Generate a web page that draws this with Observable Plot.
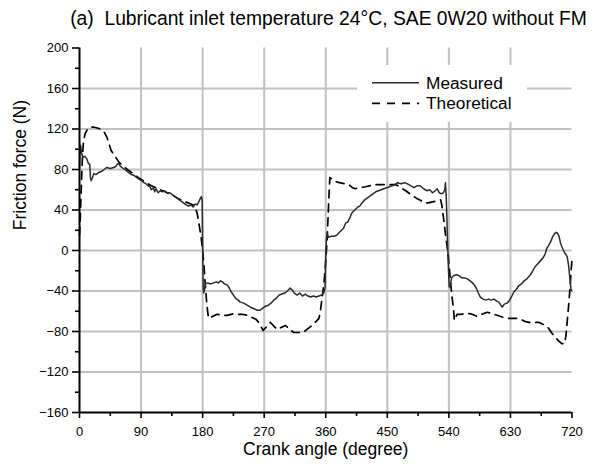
<!DOCTYPE html>
<html><head><meta charset="utf-8">
<script src="https://cdn.jsdelivr.net/npm/d3@7"></script>
<script src="https://cdn.jsdelivr.net/npm/@observablehq/plot@0.6"></script>
<style>
body{margin:0;background:#fff;}
#wrap{width:592px;height:472px;position:relative;overflow:hidden;font-family:Arial,"Liberation Sans",sans-serif;background:#fff;}
#title{height:34px;position:relative;}
#title span{position:absolute;left:0;width:657px;text-align:center;top:9px;font-size:19.3px;line-height:19px;white-space:pre;color:#000;}
#chart svg{display:block;}
</style></head>
<body><div id="wrap"><div id="title"><span>(a)  Lubricant inlet temperature 24°C, SAE 0W20 without FM</span></div><div id="chart"></div></div>
<script>
const titleText = "(a)  Lubricant inlet temperature 24°C, SAE 0W20 without FM";
const xTitle = "Crank angle (degree)";
const yTitle = "Friction force (N)";
const seriesNames = ["Measured", "Theoretical"];

const xTicks = [0, 90, 180, 270, 360, 450, 540, 630, 720];
const xMinorTicks = [45, 135, 225, 315, 405, 495, 585, 675];
const yTicks = [-160, -120, -80, -40, 0, 40, 80, 120, 160, 200];
const yMinorTicks = [-140, -100, -60, -20, 20, 60, 100, 140, 180];
const xGridLines = [90, 180, 270, 360, 450, 540, 630];
const yGridLines = [-120, -80, -40, 0, 40, 80, 120, 160];

const measuredAngle = [
  0,0.7,1.5,3,5,8,11,13,15,16,17,19,21,24,28,32,36,40,45,50,53,55,57,60,64,68,72,76,80,84,88,91,94,97,100,103,105,108,110,112,115,118,121,124,128,132,136,140,144,148,152,156,160,163,166,169,172,175,177,178.3,179.3,
  180,180.8,181.5,182.5,184,187,192,196,200,203,206,209,212,216,219,221,224,228,232,235,240,245,250,255,260,264,268,272,276,280,284,288,292,296,300,304,308,311,314,318,322,326,330,334,338,342,346,350,354,357,359,
  360,361,362,364,367,372,376,380,383,386,389,392,395,398,401,404,407,410,413,417,421,425,429,433,437,441,445,449,453,457,461,465,470,475,479,484,489,494,498,503,508,512,516,520,523,526,529,532,534,535,
  536,537,538,539.5,540.5,542,544,547,551,555,559,563,567,571,576,580,583,586,590,594,598,602,606,610,613,616,618,621,625,628,632,635,639,642,646,650,654,658,662,666,670,674,678,681,683,686,689,692,695,697,699,701,703,705,707,710,713,715,717,718.5,720
];
const measuredForce = [
  82,98,104,96,92,93,90,86,85,72,69,72,76,75,77,78,80,82,81,82,83,85,86,83,81,79,77,75,74,72,70,69,67,66,64,63,60,62,58,61,57,59,58,59,57,57,55,53,51,49,47,45,44,45,43,46,45,49,52,53,50,
  10,-38,-42,-40,-33,-32,-33,-32,-31,-32,-30,-31,-33,-34,-37,-40,-43,-47,-49,-51,-52,-54,-56,-57.5,-59,-59,-57,-55,-54,-52,-49,-47,-44,-43,-42,-40,-37,-39,-42,-44,-42,-45,-43,-45,-46,-45,-46,-45,-44,-42,-37,
  -5,12,17,13,14,14,15,18,20,22,27,28,32,37,39,41,43,44,47,50,52,54,56,58,59,60,61,62,63,64,65,67,66,67,66,64,62,64,64,61,59,60,57,59,61,57,56,57,60,67,
  55,35,10,-20,-36,-35,-27,-25,-24,-25,-27,-27,-28,-30,-33,-37,-42,-46,-48,-49,-48,-49,-48,-50,-51,-54,-56,-53,-52,-50,-45,-41,-38,-35,-33,-30,-28,-25,-21,-16,-13,-10,-7,-3,2,5,9,14,17,18,17,14,8,4,1,-3,-6,-15,-28,-38,-40
];

const theoreticalAngle = [
  0,1,2,3,4,5,6,8,11,15,20,26,32,36,40,43,46,50,54,58,63,70,78,86,95,105,115,125,135,145,155,163,168,172,175,178,180,182,184,186,188,189,
  195,201,208,216,225,232,238,245,252,258,262,268.5,279,289,301,313,327,340,346,350,352,354,356,358,360,362,363.5,365,366,
  370,375,380,387,394,399,403,410,418,425,431,443,455,462,466,472,477,485,494,500,506,510,516,522,528,530,531,533,535,537,539,541,543,545,547,548,
  552,558,565,572,581,588,596,602,608,615,623,633,640,645,651,657,664,672,681,686,691,695,700,705,709,711,713,715,717,718.5,720
];
const theoreticalForce = [
  15,30,50,70,88,100,108,115,119,121.5,122,121,119.5,117,112,106,99,95,91,87,84,80,76,72,68,64,61,58,55,51,48,46,44,37,25,12,0,-15,-35,-52,-64,-67,
  -65,-63,-64,-64,-62.5,-63,-63,-64,-66,-68,-71,-79,-71,-78,-74,-81,-81,-74,-70,-67,-61,-50,-40,-28,-10,10,35,58,72,
  70,68,67,66,65,62,61,62,63,64,65,65,65,65,64,61,59,55,51,49,47,47,48,49,50,44,38,28,16,6,-5,-20,-35,-48,-60,-69,
  -63,-63,-62,-62.5,-65,-63,-61,-62,-63.5,-65,-67,-67,-67,-68,-70,-71,-71,-71,-74,-77,-82,-85,-89,-92,-92,-85,-70,-55,-38,-22,-8
];

const measured = measuredAngle.map((a, i) => ({angle: a, force: measuredForce[i], series: seriesNames[0]}));
const theoretical = theoreticalAngle.map((a, i) => ({angle: a, force: theoreticalForce[i], series: seriesNames[1]}));

const FONT = 'Arial, "Liberation Sans", sans-serif';
const measuredColor = "#2b2b2b";
const theoColor = "#000";
const dash = "8,6";

const chart = Plot.plot({
  width: 592,
  height: 438,
  marginLeft: 79,
  marginRight: 20.5,
  marginTop: 13.5,
  marginBottom: 60,
  style: {fontFamily: FONT, fontSize: "13px", color: "#000", background: "#fff", overflow: "visible"},
  x: {domain: [0, 720]},
  y: {domain: [-160, 200]},
  marks: [
    Plot.gridX(xGridLines, {stroke: "#c0c0c0", strokeOpacity: 1, strokeWidth: 2}),
    Plot.gridY(yGridLines, {stroke: "#c0c0c0", strokeOpacity: 1, strokeWidth: 2}),
    Plot.line(theoretical, {x: "angle", y: "force", stroke: theoColor, strokeWidth: 1.7, strokeDasharray: dash}),
    Plot.line(measured, {x: "angle", y: "force", stroke: measuredColor, strokeWidth: 1.5}),
    Plot.axisX(xTicks, {tickSize: 6, tickPadding: 8, strokeWidth: 1.6, label: null, fontSize: 13}),
    Plot.axisX(xMinorTicks, {tickSize: 4, strokeWidth: 1.6, fill: "none", label: null}),
    Plot.axisY(yTicks, {tickSize: 7, tickPadding: 4, strokeWidth: 1.6, label: null, fontSize: 13}),
    Plot.axisY(yMinorTicks, {tickSize: 4, strokeWidth: 1.6, fill: "none", label: null}),
    Plot.ruleX([0], {stroke: "#000", strokeWidth: 2}),
    Plot.ruleY([-160], {stroke: "#000", strokeWidth: 2}),
    Plot.text([xTitle], {frameAnchor: "bottom", lineAnchor: "bottom", dy: 42, fontSize: 17.5, fill: "#000"}),
    Plot.text([yTitle], {frameAnchor: "left", rotate: -90, lineAnchor: "bottom", dx: -54, fontSize: 17.5, fill: "#000"})
  ]
});

// legend (layout only)
const svg = d3.select(chart);
const lg = svg.append("g").attr("font-family", FONT).attr("font-size", 17.3).attr("text-anchor", "start");
lg.append("rect").attr("x", 357).attr("y", 31).attr("width", 170).attr("height", 57).attr("fill", "#fff");
const items = [
  {name: seriesNames[0], stroke: measuredColor, w: 1.5, dash: null},
  {name: seriesNames[1], stroke: theoColor, w: 1.7, dash: dash}
];
items.forEach((it, i) => {
  const y = 48.7 + i * 20.6;
  const ln = lg.append("line").attr("x1", 372).attr("x2", 419).attr("y1", y).attr("y2", y)
    .attr("stroke", it.stroke).attr("stroke-width", it.w);
  if (it.dash) ln.attr("stroke-dasharray", "8,7");
  lg.append("text").attr("x", 426).attr("y", y + 5.8).attr("fill", "#000").attr("text-anchor", "start").text(it.name);
});

document.getElementById("chart").appendChild(chart);
</script>
</body></html>
